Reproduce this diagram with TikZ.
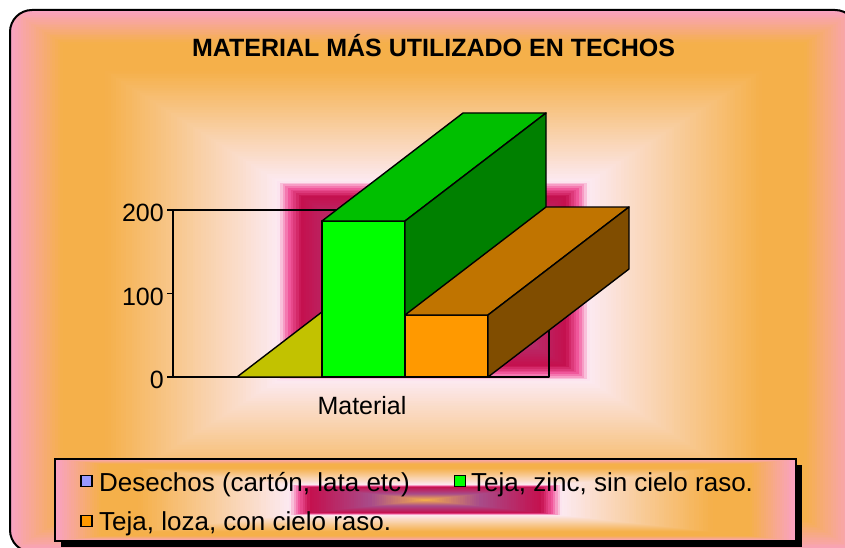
\documentclass[tikz,border=0pt]{standalone}
\usepackage{fontspec}
\setmainfont{Liberation Sans}
\usetikzlibrary{positioning}

\definecolor{pinkE}{HTML}{F9A2C2}
\definecolor{orangeE}{HTML}{F5B04A}
\definecolor{lightE}{HTML}{FCEAF2}
\definecolor{hotE}{HTML}{F25A9E}
\definecolor{magE}{HTML}{C4104E}
\definecolor{purpE}{HTML}{A84C8A}
\definecolor{oliveTop}{HTML}{C2C200}
\definecolor{blueKey}{HTML}{9999FF}
\definecolor{greenFront}{HTML}{00FF00}
\definecolor{greenTop}{HTML}{00BF00}
\definecolor{greenSide}{HTML}{008000}
\definecolor{orangeFront}{HTML}{FF9900}
\definecolor{orangeTop}{HTML}{C07400}
\definecolor{orangeSide}{HTML}{804D00}

% colour of the background at fraction t from edge to centre
\newcommand\mixcol[4]{%
  \pgfmathtruncatemacro\gp{100*(\gt-#3)/(#4-#3)}%
  \colorlet{gc}{#2!\gp!#1}}
\newcommand\gradcol[1]{%
  \pgfmathsetmacro\gt{#1}%
  \ifdim\gt pt<0.12pt \mixcol{pinkE}{orangeE}{0}{0.12}%
  \else\ifdim\gt pt<0.22pt \colorlet{gc}{orangeE}%
  \else\ifdim\gt pt<0.63pt \mixcol{orangeE}{lightE}{0.22}{0.63}%
  \else\ifdim\gt pt<0.655pt \mixcol{lightE}{hotE}{0.63}{0.655}%
  \else\ifdim\gt pt<0.685pt \mixcol{hotE}{magE}{0.655}{0.685}%
  \else\ifdim\gt pt<0.85pt \mixcol{magE}{purpE}{0.685}{0.85}%
  \else \mixcol{purpE}{orangeE}{0.85}{1}%
  \fi\fi\fi\fi\fi\fi}
% nested rectangles from (x0,y0)-(x1,y1) towards the centre
\newcommand\gradbox[4]{%
  \foreach \i in {0,...,160}{%
    \pgfmathsetmacro\ft{\i/160}%
    \gradcol{\ft}%
    \pgfmathsetmacro\hx{\ft*((#3)-(#1))/2}%
    \pgfmathsetmacro\hy{\ft*((#4)-(#2))/2}%
    \fill[gc] ({#1+\hx},{#2+\hy}) rectangle ({#3-\hx},{#4-\hy});
  }}
% 3d bar: left x, top y of front face
\newcommand\cubebar[5]{%
  \fill[#3,bord] (#1,#2) rectangle ({#1+83},377);
  \fill[#4,bord] (#1,#2) -- ({#1+83},#2) -- ({#1+224},{#2-108}) -- ({#1+141},{#2-108}) -- cycle;
  \fill[#5,bord] ({#1+83},#2) -- ({#1+224},{#2-108}) -- ({#1+224},269) -- ({#1+83},377) -- cycle;
}

\begin{document}
\begin{tikzpicture}[x=1pt,y=-1pt,
    bord/.style={draw=black,line width=1.4pt,line join=round},
    txt/.style={inner sep=0pt,font=\fontsize{25}{30}\selectfont},
    legtxt/.style={inner sep=0pt,font=\fontsize{26}{30}\selectfont},
    key/.style={draw=black,line width=1.3pt,minimum size=11pt,inner sep=0pt}]
  \useasboundingbox (0,0) rectangle (845,548);

  % chart area
  \begin{scope}
    \clip[rounded corners=22pt] (10,10) rectangle (857,552);
    \gradbox{10}{10}{857}{552}
  \end{scope}
  \draw[line width=2pt,rounded corners=22pt] (10,10) rectangle (857,552);

  \node[txt,font=\fontsize{25}{30}\selectfont\bfseries] (title) at (433.5,46)
    {MATERIAL MÁS UTILIZADO EN TECHOS};

  % plot frame and axis
  \draw[bord] (173,210) rectangle (549,377);
  \foreach \v/\y in {0/377,100/293.5,200/210}{
    \draw[bord] (167,\y) -- (173,\y);
    \node[txt,anchor=base east] (tick\v) at (164,{\y+11.5}) {\v};
  }

  % bars
  \fill[oliveTop,bord] (237,377) -- (322,377) -- (463,269) -- (378,269) -- cycle;
  \cubebar{322}{221}{greenFront}{greenTop}{greenSide}
  \cubebar{405}{315}{orangeFront}{orangeTop}{orangeSide}

  \node[txt,anchor=base] (cat) at (362,414) {Material};

  % legend
  \fill[black] (61,465) rectangle (802,547);
  \gradbox{55}{459}{796}{541}
  \draw[line width=1.3pt] (55,459) rectangle (796,541);
  \node[key,fill=blueKey] (k1) at (86.5,481) {};
  \node[legtxt,anchor=base west] (l1) at (99,491) {Desechos (cartón, lata etc)};
  \node[key,fill=greenFront] (k2) at (460,481) {};
  \node[legtxt,anchor=base west] (l2) at (471,491) {Teja, zinc, sin cielo raso.};
  \node[key,fill=orangeFront] (k3) at (86.5,521) {};
  \node[legtxt,anchor=base west] (l3) at (99,530) {Teja, loza, con cielo raso.};
\end{tikzpicture}
\end{document}
